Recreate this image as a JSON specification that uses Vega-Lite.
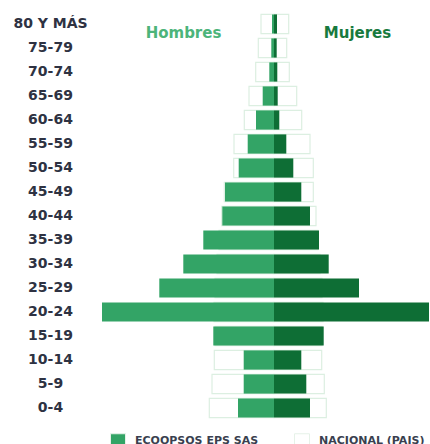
{
  "$schema": "https://vega.github.io/schema/vega-lite/v6.json",
  "width": 330,
  "height": 408,
  "autosize": {"type": "none"},
  "padding": {"left": 100, "top": 12, "right": 0, "bottom": 24},
  "background": "white",
  "config": {
    "view": {"stroke": null},
    "font": "DejaVu Sans"
  },
  "datasets": {
    "pop": [
      {"edad": "80 Y MÁS", "sexo": "Hombres", "fuente": "ECOOPSOS EPS SAS", "valor": -2},
      {"edad": "80 Y MÁS", "sexo": "Mujeres", "fuente": "ECOOPSOS EPS SAS", "valor": 3},
      {"edad": "80 Y MÁS", "sexo": "Hombres", "fuente": "NACIONAL (PAIS)", "valor": -13},
      {"edad": "80 Y MÁS", "sexo": "Mujeres", "fuente": "NACIONAL (PAIS)", "valor": 14.7},
      {"edad": "75-79", "sexo": "Hombres", "fuente": "ECOOPSOS EPS SAS", "valor": -2.7},
      {"edad": "75-79", "sexo": "Mujeres", "fuente": "ECOOPSOS EPS SAS", "valor": 2.7},
      {"edad": "75-79", "sexo": "Hombres", "fuente": "NACIONAL (PAIS)", "valor": -15.7},
      {"edad": "75-79", "sexo": "Mujeres", "fuente": "NACIONAL (PAIS)", "valor": 12.7},
      {"edad": "70-74", "sexo": "Hombres", "fuente": "ECOOPSOS EPS SAS", "valor": -4.7},
      {"edad": "70-74", "sexo": "Mujeres", "fuente": "ECOOPSOS EPS SAS", "valor": 3.3},
      {"edad": "70-74", "sexo": "Hombres", "fuente": "NACIONAL (PAIS)", "valor": -18.3},
      {"edad": "70-74", "sexo": "Mujeres", "fuente": "NACIONAL (PAIS)", "valor": 15.3},
      {"edad": "65-69", "sexo": "Hombres", "fuente": "ECOOPSOS EPS SAS", "valor": -11.3},
      {"edad": "65-69", "sexo": "Mujeres", "fuente": "ECOOPSOS EPS SAS", "valor": 3.7},
      {"edad": "65-69", "sexo": "Hombres", "fuente": "NACIONAL (PAIS)", "valor": -25},
      {"edad": "65-69", "sexo": "Mujeres", "fuente": "NACIONAL (PAIS)", "valor": 22.7},
      {"edad": "60-64", "sexo": "Hombres", "fuente": "ECOOPSOS EPS SAS", "valor": -18},
      {"edad": "60-64", "sexo": "Mujeres", "fuente": "ECOOPSOS EPS SAS", "valor": 5.3},
      {"edad": "60-64", "sexo": "Hombres", "fuente": "NACIONAL (PAIS)", "valor": -29.7},
      {"edad": "60-64", "sexo": "Mujeres", "fuente": "NACIONAL (PAIS)", "valor": 27.7},
      {"edad": "55-59", "sexo": "Hombres", "fuente": "ECOOPSOS EPS SAS", "valor": -26.3},
      {"edad": "55-59", "sexo": "Mujeres", "fuente": "ECOOPSOS EPS SAS", "valor": 12.3},
      {"edad": "55-59", "sexo": "Hombres", "fuente": "NACIONAL (PAIS)", "valor": -40},
      {"edad": "55-59", "sexo": "Mujeres", "fuente": "NACIONAL (PAIS)", "valor": 36},
      {"edad": "50-54", "sexo": "Hombres", "fuente": "ECOOPSOS EPS SAS", "valor": -35.3},
      {"edad": "50-54", "sexo": "Mujeres", "fuente": "ECOOPSOS EPS SAS", "valor": 19.3},
      {"edad": "50-54", "sexo": "Hombres", "fuente": "NACIONAL (PAIS)", "valor": -40.3},
      {"edad": "50-54", "sexo": "Mujeres", "fuente": "NACIONAL (PAIS)", "valor": 39.3},
      {"edad": "45-49", "sexo": "Hombres", "fuente": "ECOOPSOS EPS SAS", "valor": -49},
      {"edad": "45-49", "sexo": "Mujeres", "fuente": "ECOOPSOS EPS SAS", "valor": 27.3},
      {"edad": "45-49", "sexo": "Hombres", "fuente": "NACIONAL (PAIS)", "valor": -49.7},
      {"edad": "45-49", "sexo": "Mujeres", "fuente": "NACIONAL (PAIS)", "valor": 39.3},
      {"edad": "40-44", "sexo": "Hombres", "fuente": "ECOOPSOS EPS SAS", "valor": -51.7},
      {"edad": "40-44", "sexo": "Mujeres", "fuente": "ECOOPSOS EPS SAS", "valor": 36},
      {"edad": "40-44", "sexo": "Hombres", "fuente": "NACIONAL (PAIS)", "valor": -52.3},
      {"edad": "40-44", "sexo": "Mujeres", "fuente": "NACIONAL (PAIS)", "valor": 42},
      {"edad": "35-39", "sexo": "Hombres", "fuente": "ECOOPSOS EPS SAS", "valor": -70.7},
      {"edad": "35-39", "sexo": "Mujeres", "fuente": "ECOOPSOS EPS SAS", "valor": 45},
      {"edad": "35-39", "sexo": "Hombres", "fuente": "NACIONAL (PAIS)", "valor": -55},
      {"edad": "35-39", "sexo": "Mujeres", "fuente": "NACIONAL (PAIS)", "valor": 44},
      {"edad": "30-34", "sexo": "Hombres", "fuente": "ECOOPSOS EPS SAS", "valor": -90.7},
      {"edad": "30-34", "sexo": "Mujeres", "fuente": "ECOOPSOS EPS SAS", "valor": 54.7},
      {"edad": "30-34", "sexo": "Hombres", "fuente": "NACIONAL (PAIS)", "valor": -57},
      {"edad": "30-34", "sexo": "Mujeres", "fuente": "NACIONAL (PAIS)", "valor": 46},
      {"edad": "25-29", "sexo": "Hombres", "fuente": "ECOOPSOS EPS SAS", "valor": -114.7},
      {"edad": "25-29", "sexo": "Mujeres", "fuente": "ECOOPSOS EPS SAS", "valor": 85},
      {"edad": "25-29", "sexo": "Hombres", "fuente": "NACIONAL (PAIS)", "valor": -59},
      {"edad": "25-29", "sexo": "Mujeres", "fuente": "NACIONAL (PAIS)", "valor": 48},
      {"edad": "20-24", "sexo": "Hombres", "fuente": "ECOOPSOS EPS SAS", "valor": -172},
      {"edad": "20-24", "sexo": "Mujeres", "fuente": "ECOOPSOS EPS SAS", "valor": 155},
      {"edad": "20-24", "sexo": "Hombres", "fuente": "NACIONAL (PAIS)", "valor": -60},
      {"edad": "20-24", "sexo": "Mujeres", "fuente": "NACIONAL (PAIS)", "valor": 49},
      {"edad": "15-19", "sexo": "Hombres", "fuente": "ECOOPSOS EPS SAS", "valor": -60.7},
      {"edad": "15-19", "sexo": "Mujeres", "fuente": "ECOOPSOS EPS SAS", "valor": 49.7},
      {"edad": "15-19", "sexo": "Hombres", "fuente": "NACIONAL (PAIS)", "valor": -59},
      {"edad": "15-19", "sexo": "Mujeres", "fuente": "NACIONAL (PAIS)", "valor": 48},
      {"edad": "10-14", "sexo": "Hombres", "fuente": "ECOOPSOS EPS SAS", "valor": -30.3},
      {"edad": "10-14", "sexo": "Mujeres", "fuente": "ECOOPSOS EPS SAS", "valor": 27.3},
      {"edad": "10-14", "sexo": "Hombres", "fuente": "NACIONAL (PAIS)", "valor": -59.7},
      {"edad": "10-14", "sexo": "Mujeres", "fuente": "NACIONAL (PAIS)", "valor": 47.7},
      {"edad": "5-9", "sexo": "Hombres", "fuente": "ECOOPSOS EPS SAS", "valor": -30.3},
      {"edad": "5-9", "sexo": "Mujeres", "fuente": "ECOOPSOS EPS SAS", "valor": 32.3},
      {"edad": "5-9", "sexo": "Hombres", "fuente": "NACIONAL (PAIS)", "valor": -62},
      {"edad": "5-9", "sexo": "Mujeres", "fuente": "NACIONAL (PAIS)", "valor": 50.3},
      {"edad": "0-4", "sexo": "Hombres", "fuente": "ECOOPSOS EPS SAS", "valor": -36},
      {"edad": "0-4", "sexo": "Mujeres", "fuente": "ECOOPSOS EPS SAS", "valor": 36},
      {"edad": "0-4", "sexo": "Hombres", "fuente": "NACIONAL (PAIS)", "valor": -64.7},
      {"edad": "0-4", "sexo": "Mujeres", "fuente": "NACIONAL (PAIS)", "valor": 52.3}
    ],
    "titulos": [
      {"edad": "80 Y MÁS", "texto": "Hombres", "pos": -90.5},
      {"edad": "80 Y MÁS", "texto": "Mujeres", "pos": 83.5}
    ]
  },
  "encoding": {
    "y": {
      "field": "edad",
      "type": "nominal",
      "sort": ["80 Y MÁS", "75-79", "70-74", "65-69", "60-64", "55-59", "50-54", "45-49", "40-44", "35-39", "30-34", "25-29", "20-24", "15-19", "10-14", "5-9", "0-4"],
      "scale": {"paddingInner": 0.2, "paddingOuter": 0.1},
      "axis": {
        "title": null,
        "domain": false,
        "ticks": false,
        "labelAlign": "center",
        "labelPadding": 50,
        "labelFont": "DejaVu Sans",
        "labelFontWeight": "bold",
        "labelFontSize": 14,
        "labelColor": "#2e3242"
      }
    }
  },
  "layer": [
    {
      "data": {"name": "pop"},
      "transform": [{"filter": "datum.fuente === 'NACIONAL (PAIS)'"}],
      "mark": {"type": "bar", "stroke": "#dcefe1", "strokeWidth": 1.2},
      "encoding": {
        "x": {"field": "valor", "type": "quantitative", "scale": {"domain": [-174, 156], "nice": false}, "axis": null},
        "color": {
          "field": "fuente",
          "type": "nominal",
          "scale": {"domain": ["ECOOPSOS EPS SAS", "NACIONAL (PAIS)"], "range": ["#33a466", "#ffffff"]},
          "legend": {
            "title": null,
            "orient": "none",
            "direction": "horizontal",
            "legendX": 10,
            "legendY": 421,
            "symbolType": "square",
            "symbolSize": 225,
            "symbolStrokeColor": "#e6f2e8",
            "symbolStrokeWidth": 1,
            "labelOffset": 9,
            "columnPadding": 33,
            "labelFont": "DejaVu Sans",
            "labelFontWeight": "bold",
            "labelFontSize": 11,
            "labelColor": "#3a3f4f",
            "padding": 0
          }
        }
      }
    },
    {
      "data": {"name": "pop"},
      "transform": [{"filter": "datum.fuente === 'ECOOPSOS EPS SAS' && datum.sexo === 'Hombres'"}],
      "mark": {"type": "bar"},
      "encoding": {
        "x": {"field": "valor", "type": "quantitative"},
        "color": {"field": "fuente", "type": "nominal"}
      }
    },
    {
      "data": {"name": "pop"},
      "transform": [{"filter": "datum.fuente === 'ECOOPSOS EPS SAS' && datum.sexo === 'Mujeres'"}],
      "mark": {"type": "bar", "fill": "#0e6e35"},
      "encoding": {
        "x": {"field": "valor", "type": "quantitative"}
      }
    },
    {
      "data": {"name": "titulos"},
      "mark": {"type": "text", "font": "DejaVu Sans", "fontWeight": "bold", "fontSize": 15, "dy": 9},
      "encoding": {
        "x": {"field": "pos", "type": "quantitative"},
        "text": {"field": "texto"},
        "fill": {
          "condition": {"test": "datum.texto === 'Mujeres'", "value": "#187a3e"},
          "value": "#4cb47a"
        }
      }
    }
  ]
}
